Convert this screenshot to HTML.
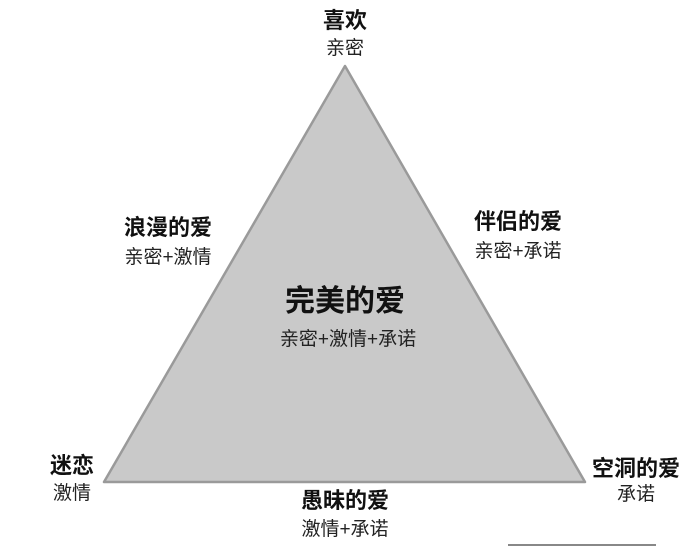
<!DOCTYPE html>
<html><head><meta charset="utf-8"><style>
html,body{margin:0;padding:0;background:#fff;}
svg{display:block;}
text{font-family:"Liberation Sans","Noto Sans CJK SC",sans-serif;fill:#111;text-anchor:middle;}
.b{font-weight:bold;font-size:22px;}
.r{font-size:19px;fill:#222;}
</style></head><body>
<svg width="700" height="547" viewBox="0 0 700 547" xmlns="http://www.w3.org/2000/svg">
<polygon points="345,66 104,482 585,482" fill="#c9c9c9" stroke="#9a9a9a" stroke-width="2.5" stroke-linejoin="round"/>
<line x1="508" y1="545" x2="656" y2="545" stroke="#888" stroke-width="2"/>
<text class="b" x="345" y="28">喜欢</text>
<text class="r" x="345" y="54">亲密</text>
<text class="b" x="168" y="235">浪漫的爱</text>
<text class="r" x="168" y="263">亲密+激情</text>
<text class="b" x="518" y="229">伴侣的爱</text>
<text class="r" x="518" y="257">亲密+承诺</text>
<text class="b" x="345" y="311" style="font-size:30px;">完美的爱</text>
<text class="r" x="348" y="345">亲密+激情+承诺</text>
<text class="b" x="72" y="473">迷恋</text>
<text class="r" x="72" y="499">激情</text>
<text class="b" x="636" y="476">空洞的爱</text>
<text class="r" x="636" y="500">承诺</text>
<text class="b" x="345" y="508">愚昧的爱</text>
<text class="r" x="345" y="535">激情+承诺</text>
</svg>
</body></html>
